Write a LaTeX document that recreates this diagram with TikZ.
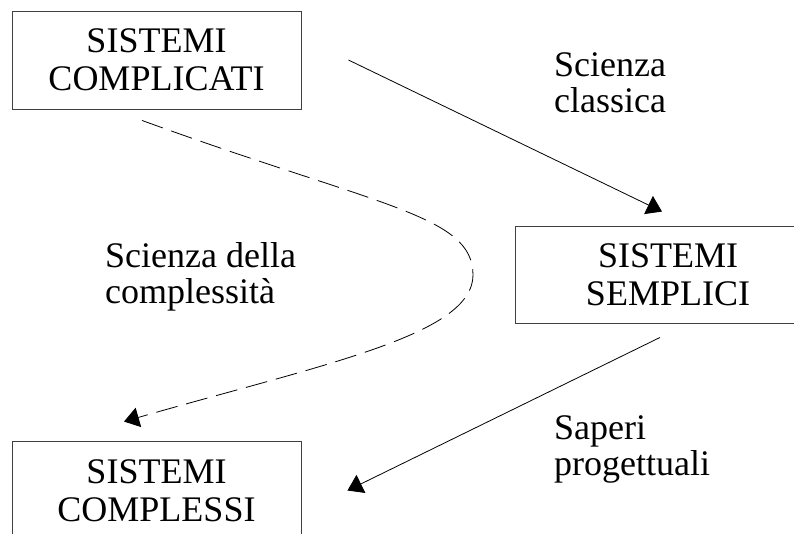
\documentclass[tikz,border=0pt]{standalone}
\usepackage{fontspec}
\setmainfont{Liberation Serif}
\usetikzlibrary{arrows.meta}
\begin{document}
\begin{tikzpicture}[x=1pt,y=-1pt,
  box/.style={draw=black!75, line width=0.9pt, align=center, inner sep=0pt,
    font=\fontsize{36}{38}\selectfont},
  lbl/.style={align=left, anchor=north west, inner sep=0pt,
    font=\fontsize{36}{36}\selectfont},
  conn/.style={line width=0.8pt, -{Triangle[length=15pt,width=20pt]}},
  dashconn/.style={conn, dash pattern=on 22pt off 9pt},
]
\useasboundingbox (0,0) rectangle (794,533);

\node[box, minimum width=289pt, minimum height=98pt] (cplx) at (156.5,60) {SISTEMI\\COMPLICATI};
\node[box, minimum width=306pt, minimum height=97pt] (semp) at (668,274.5) {SISTEMI\\SEMPLICI};
\node[box, minimum width=289pt, minimum height=99pt] (cmplx) at (156.5,490.5) {SISTEMI\\COMPLESSI};

\node[lbl] (lclass) at (554,52.5) {Scienza\\classica};
\node[lbl] (lcompl) at (105,242) {Scienza della\\complessità};
\node[lbl] (lsap) at (554,415) {Saperi\\progettuali};

\draw[conn] ([xshift=47pt]cplx.east) -- ([xshift=-6pt,yshift=14pt]semp.north);
\draw[dashconn] ([xshift=-14.5pt,yshift=-11pt]cplx.south)
  .. controls (380,207) and (473,215) .. (473,275)
  .. controls (473,335) and (324,364) .. ([xshift=-32.5pt,yshift=19pt]cmplx.north);
\draw[conn] ([xshift=-8pt,yshift=-14pt]semp.south) -- ([xshift=46pt]cmplx.east);
\end{tikzpicture}
\end{document}
